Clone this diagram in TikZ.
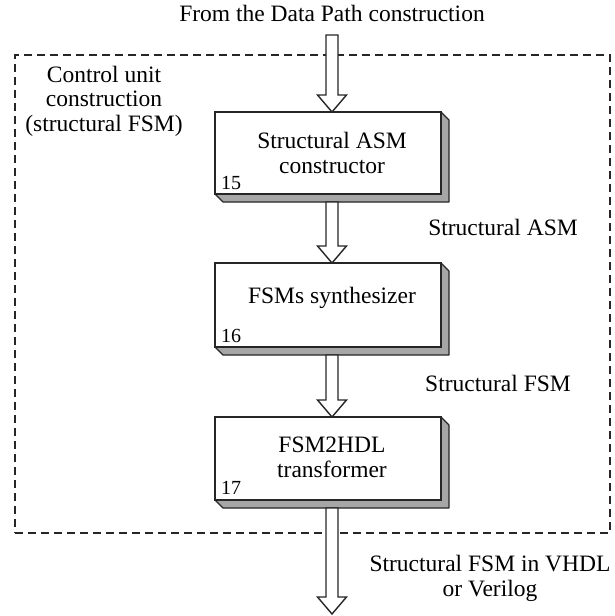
\documentclass[tikz,border=0pt]{standalone}
\usepackage{fontspec}
\setmainfont{Liberation Serif}
\begin{document}
\begin{tikzpicture}[x=1pt,y=-1pt,
  txt/.style={font=\fontsize{23.5}{24.5}\selectfont, align=center, inner sep=0pt, anchor=base},
  num/.style={font=\fontsize{20}{22}\selectfont, inner sep=0pt, anchor=base west},
  block/.style={draw=black!85, line width=1.6pt, fill=white},
  shade/.style={draw=black!85, line width=1.2pt, fill=black!35, line join=round},
  frame/.style={draw=black!85, line width=1.4pt, dash pattern=on 8pt off 5pt},
  hollow/.style={draw=black!85, line width=1.4pt, fill=white, line join=miter}]
\useasboundingbox (0,0) rectangle (614,616);

% outer dashed frame
\node[frame, minimum width=595pt, minimum height=478pt, inner sep=0pt] (frame) at (312.5,294) {};

% blocks with a raised edge on the right and below
\foreach \nm/\t/\b in {b1/112/194, b2/263/347, b3/417/500}{
  \fill[shade] (441,\t) -- (449,\t+8) -- (449,\b+8) -- (223,\b+8) -- (215,\b) -- cycle;
  \node[block, minimum width=226pt, minimum height={\b-\t}, inner sep=0pt] (\nm) at (328,{(\t+\b)/2}) {};
}

% block captions and numbers (base = baseline of the last line)
\node[txt] (t1) at (332,173) {Structural ASM\\constructor};
\node[num] (n1) at (221,189) {15};
\node[txt] (t2) at (332,303) {FSMs synthesizer};
\node[num] (n2) at (221,342) {16};
\node[txt] (t3) at (332,477) {FSM2HDL\\transformer};
\node[num] (n3) at (221,494) {17};

% side labels
\node[txt] (top) at (332,21) {From the Data Path construction};
\node[txt] (cu) at (104,131) {Control unit\\construction\\(structural FSM)};
\node[txt] (l1) at (503,235) {Structural ASM};
\node[txt] (l2) at (498,391) {Structural FSM};
\node[txt] (l3) at (490,596) {Structural FSM in VHDL\\or Verilog};

% hollow arrows between stages
\coordinate (a0) at (332,35);
\coordinate (a1) at (332,202);
\coordinate (a2) at (332,355);
\coordinate (a3) at (332,508);
\coordinate (out) at (332,614);
\foreach \s/\e/\tip in {a0/b1/112, a1/b2/263, a2/b3/417, a3/out/614}{
  \path (\s) coordinate (S);
  \draw[hollow] ([xshift=-6pt]S) -- (326,\tip-17) -- (317.5,\tip-17) -- (332,\tip)
     -- (346.5,\tip-17) -- (338,\tip-17) -- ([xshift=6pt]S) -- cycle;
}
\end{tikzpicture}
\end{document}
